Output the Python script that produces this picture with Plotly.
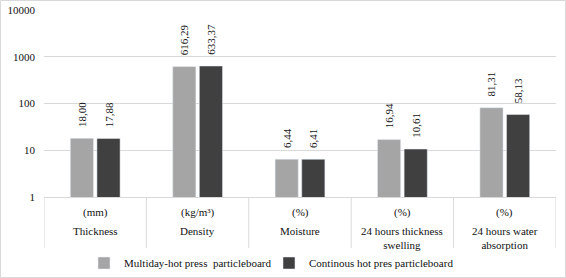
import plotly.graph_objects as go

categories = ["Thickness", "Density", "Moisture", "24 hours thickness<br>swelling", "24 hours water<br>absorption"]
units = ["(mm)", "(kg/m³)", "(%)", "(%)", "(%)"]
multiday = [18.00, 616.29, 6.44, 16.94, 81.31]
continous = [17.88, 633.37, 6.41, 10.61, 58.13]
series_names = ["Multiday-hot press  particleboard", "Continous hot pres particleboard"]
y_tickvals = [1, 10, 100, 1000, 10000]
y_ticktext = ["1", "10", "100", "1000", "10000"]

W, H = 566, 278
ML, MR, MT, MB = 44, 10, 10, 81
PW, PH = W - ML - MR, H - MT - MB

FONT = "Liberation Serif, Times New Roman, serif"
TXT = "#111111"
GRID = "#D9D9D9"

def fmt(v):
    return "\u00a0\u00a0\u00a0" + f"{v:.2f}".replace(".", ",")

xs = list(range(len(categories)))
fig = go.Figure()
fig.add_trace(go.Bar(x=xs, y=multiday, name=series_names[0], marker_color="#A5A5A5",
                     text=[fmt(v) for v in multiday], textposition="outside", textangle=-90,
                     constraintext="none",
                     textfont=dict(family=FONT, size=11, color=TXT), cliponaxis=False))
fig.add_trace(go.Bar(x=xs, y=continous, name=series_names[1], marker_color="#404040",
                     text=[fmt(v) for v in continous], textposition="outside", textangle=-90,
                     constraintext="none",
                     textfont=dict(family=FONT, size=11, color=TXT), cliponaxis=False))

def py(pix):
    return -(pix - (MT + PH)) / PH

def px(pix):
    return (pix - ML) / PW

annotations = []
for i, (c, u) in enumerate(zip(categories, units)):
    annotations.append(dict(x=i, y=py(213), xref="x", yref="paper", text=u, showarrow=False,
                            yanchor="middle", font=dict(family=FONT, size=11, color=TXT)))
    annotations.append(dict(x=i, y=py(223), xref="x", yref="paper", text=c, showarrow=False,
                            yanchor="top", font=dict(family=FONT, size=11, color=TXT)))

shapes = []
for i in range(len(categories) + 1):
    shapes.append(dict(type="line", xref="x", yref="paper", x0=i - 0.5, x1=i - 0.5,
                       y0=0, y1=py(248), line=dict(color=GRID, width=1)))
shapes.append(dict(type="rect", xref="paper", yref="paper",
                   x0=-(ML - 0.5) / PW, x1=1 + (MR - 0.5) / PW,
                   y0=-(MB - 0.5) / PH, y1=1 + (MT - 0.5) / PH,
                   line=dict(color="#D9D9D9", width=1)))

fig.update_layout(
    width=W, height=H, margin=dict(l=ML, r=MR, t=MT, b=MB, autoexpand=False),
    paper_bgcolor="white", plot_bgcolor="white",
    font=dict(family=FONT, size=11, color=TXT),
    barmode="group", bargap=0.48, bargroupgap=0.13,
    xaxis=dict(range=[-0.5, len(categories) - 0.5], showticklabels=False, showgrid=False,
               zeroline=False, showline=True, linecolor=GRID, linewidth=1, fixedrange=True),
    yaxis=dict(type="log", range=[0, 4], tickvals=y_tickvals, ticktext=y_ticktext,
               showgrid=True, gridcolor=GRID, gridwidth=1, zeroline=False, showline=False,
               ticks="", ticklabelstandoff=8, tickfont=dict(family=FONT, size=11, color=TXT)),
    legend=dict(orientation="h", x=px(84), xanchor="left", y=py(263), yanchor="middle",
                entrywidth=140, entrywidthmode="pixels",
                font=dict(family=FONT, size=11, color=TXT), bgcolor="rgba(0,0,0,0)"),
    annotations=annotations, shapes=shapes, showlegend=True,
)

fig.write_html("out.html", config={"displayModeBar": False},
               post_script="document.body.style.margin='0';")
